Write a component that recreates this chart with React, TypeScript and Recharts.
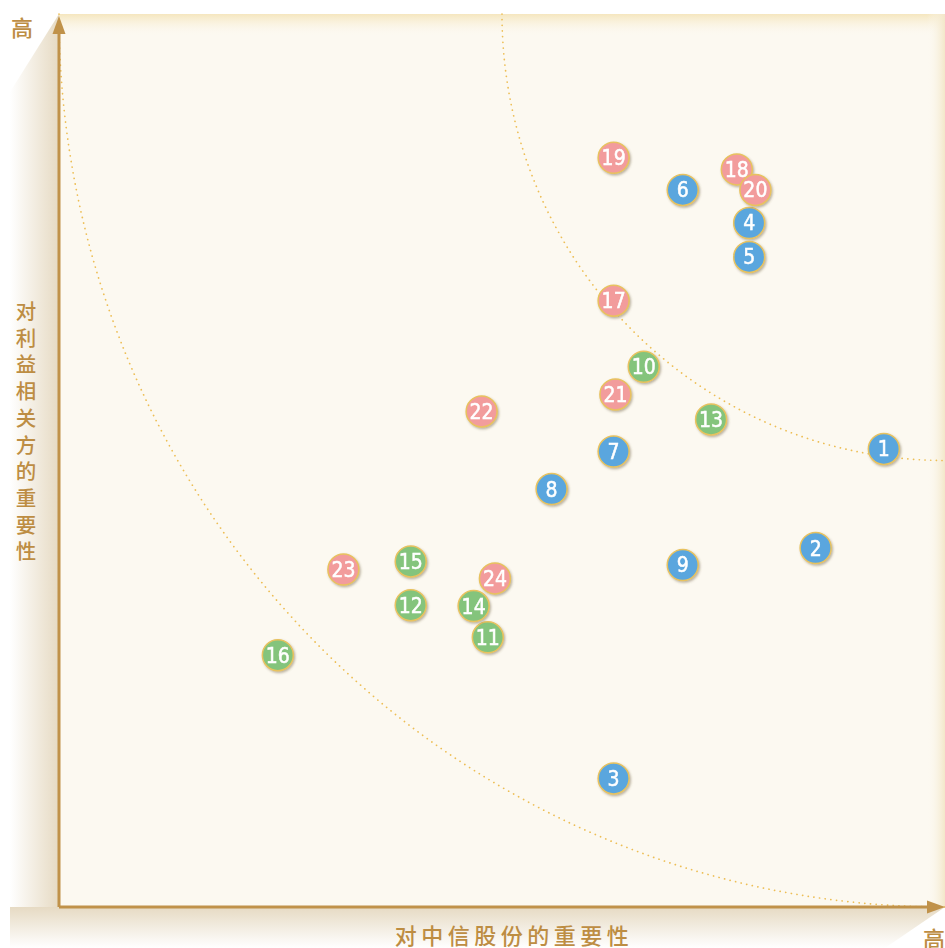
import React from "react";
import { ScatterChart, Scatter, XAxis, YAxis, ReferenceArea } from "recharts";

// ---- data ----
const blueIds = [1, 2, 3, 4, 5, 6, 7, 8, 9];
const blueX = [93.1, 85.4, 62.6, 77.9, 77.9, 70.4, 62.6, 55.6, 70.4];
const blueY = [51.3, 40.2, 14.4, 76.6, 72.8, 80.3, 51.0, 46.8, 38.3];

const greenIds = [10, 11, 12, 13, 14, 15, 16];
const greenX = [66.0, 48.4, 39.7, 73.6, 46.8, 39.7, 24.7];
const greenY = [60.5, 30.2, 33.8, 54.6, 33.7, 38.7, 28.2];

const pinkIds = [17, 18, 19, 20, 21, 22, 23, 24];
const pinkX = [62.6, 76.5, 62.6, 78.6, 62.8, 47.7, 32.1, 49.2];
const pinkY = [67.9, 82.6, 83.9, 80.3, 57.4, 55.5, 37.8, 36.8];

const arcRadii = [100, 50];
const xLabel = "对中信股份的重要性";
const yLabel = "对利益相关方的重要性";
const highLabel = "高";

const build = (ids: number[], xs: number[], ys: number[]) =>
  ids.map((id, i) => ({ id, x: xs[i], y: ys[i] }));

const blueData = build(blueIds, blueX, blueY);
const greenData = build(greenIds, greenX, greenY);
const pinkData = build(pinkIds, pinkX, pinkY);

const W = 945;
const H = 948;
const PL = 59; // plot left
const PT = 14; // plot top
const PB = 907; // plot bottom
const gold = "#C0924A";
const textGold = "#BD8D43";
const cjk = "'Noto Sans CJK SC', 'Noto Sans', sans-serif";

const makeDot = (fill: string) => (props: any) => {
  const { cx, cy, payload } = props;
  if (cx == null || cy == null) return <g />;
  return (
    <g filter="url(#dotShadow)">
      <circle cx={cx} cy={cy} r={15.5} fill={fill} stroke="#E8C25E" strokeWidth={1.5} />
      <text
        x={cx}
        y={cy + 7.5}
        textAnchor="middle"
        fill="#FFFFFF"
        stroke="#FFFFFF"
        strokeWidth={0.5}
        fontSize={21}
        fontFamily="'Liberation Sans Narrow', 'DejaVu Sans Condensed', Roboto, sans-serif"
      >
        {payload.id}
      </text>
    </g>
  );
};

const ArcShape = (props: any) => {
  const { x, y, width, height } = props;
  const cx = x + width;
  const cy = y;
  const d = `M ${x} ${cy} A ${width} ${height} 0 0 0 ${cx} ${cy + height}`;
  return (
    <path
      d={d}
      fill="none"
      stroke="#EDBE55"
      strokeWidth={1.7}
      strokeDasharray="0.1 5.6"
      strokeLinecap="round"
    />
  );
};

function Background() {
  return (
    <svg width={W} height={H} style={{ position: "absolute", left: 0, top: 0 }}>
      <defs>
        <linearGradient id="leftShade" x1="0" y1="0" x2="1" y2="0">
          <stop offset="0" stopColor="#FFFFFF" />
          <stop offset="1" stopColor="#E6DAC3" />
        </linearGradient>
        <linearGradient id="bottomShade" x1="0" y1="0" x2="0" y2="1">
          <stop offset="0" stopColor="#E6DAC3" />
          <stop offset="1" stopColor="#FFFFFF" />
        </linearGradient>
        <linearGradient id="topGlow" x1="0" y1="0" x2="0" y2="1">
          <stop offset="0" stopColor="#F5E6BE" />
          <stop offset="1" stopColor="#FCF9F1" stopOpacity="0" />
        </linearGradient>
        <linearGradient id="rightGlow" x1="1" y1="0" x2="0" y2="0">
          <stop offset="0" stopColor="#F3E7C9" />
          <stop offset="1" stopColor="#FCF9F1" stopOpacity="0" />
        </linearGradient>
      </defs>
      <polygon points={`${PL},${PT} 10,92 10,${PB} ${PL},${PB}`} fill="url(#leftShade)" />
      <polygon points={`10,${PB} ${PL},${PB} ${W},${PB} 885,${H} 10,${H}`} fill="url(#bottomShade)" />
      <rect x={PL} y={PT} width={W - PL} height={PB - PT} fill="#FCF9F1" />
      <rect x={PL} y={PT} width={W - PL} height={22} fill="url(#topGlow)" />
      <rect x={W - 18} y={PT} width={18} height={PB - PT} fill="url(#rightGlow)" />
    </svg>
  );
}

function Foreground() {
  return (
    <svg width={W} height={H} style={{ position: "absolute", left: 0, top: 0, pointerEvents: "none" }}>
      <line x1={PL} y1={PB} x2={PL} y2={PT + 12} stroke={gold} strokeWidth={3} />
      <line x1={PL} y1={PB} x2={W - 10} y2={PB} stroke={gold} strokeWidth={3} />
      <polygon points={`${PL},${PT + 2} ${PL - 6.5},${PT + 20} ${PL + 6.5},${PT + 20}`} fill={gold} />
      <polygon points={`${W},${PB} ${W - 18},${PB - 6.5} ${W - 18},${PB + 6.5}`} fill={gold} />
      <text x={22} y={36} textAnchor="middle" fill={textGold} fontSize={22} fontWeight={500} fontFamily={cjk}>
        {highLabel}
      </text>
      <text x={934} y={947} textAnchor="middle" fill={textGold} fontSize={22} fontWeight={500} fontFamily={cjk}>
        {highLabel}
      </text>
      <text x={514} y={944} textAnchor="middle" fill={textGold} fontSize={22} fontWeight={500} letterSpacing={4.5} fontFamily={cjk}>
        {xLabel}
      </text>
      <text
        x={26}
        y={301}
        fill={textGold}
        fontSize={20.5}
        fontWeight={500}
        letterSpacing={6.2}
        fontFamily={cjk}
        style={{ writingMode: "vertical-rl" as any }}
      >
        {yLabel}
      </text>
    </svg>
  );
}

export default function App() {
  return (
    <div style={{ position: "absolute", left: 0, top: 0, width: W, height: H, background: "#FFFFFF" }}>
      <Background />
      <div style={{ position: "absolute", left: 0, top: 0 }}>
        <ScatterChart width={W} height={H} margin={{ top: PT, left: PL, right: 0, bottom: H - PB }}>
          <defs>
            <filter id="dotShadow" x="-50%" y="-50%" width="200%" height="200%">
              <feDropShadow dx={1.2} dy={1.5} stdDeviation={0.9} floodColor="#6B5A3A" floodOpacity={0.45} />
            </filter>
          </defs>
          <XAxis type="number" dataKey="x" domain={[0, 100]} hide />
          <YAxis type="number" dataKey="y" domain={[0, 100]} hide />
          {arcRadii.map((r) => (
            <ReferenceArea
              key={r}
              x1={100 - r}
              x2={100}
              y1={100 - r}
              y2={100}
              shape={ArcShape}
              ifOverflow="visible"
            />
          ))}
          <Scatter data={blueData} isAnimationActive={false} shape={makeDot("#5AA6DE")} />
          <Scatter data={greenData} isAnimationActive={false} shape={makeDot("#84C47B")} />
          <Scatter data={pinkData} isAnimationActive={false} shape={makeDot("#F29C9C")} />
        </ScatterChart>
      </div>
      <Foreground />
    </div>
  );
}
